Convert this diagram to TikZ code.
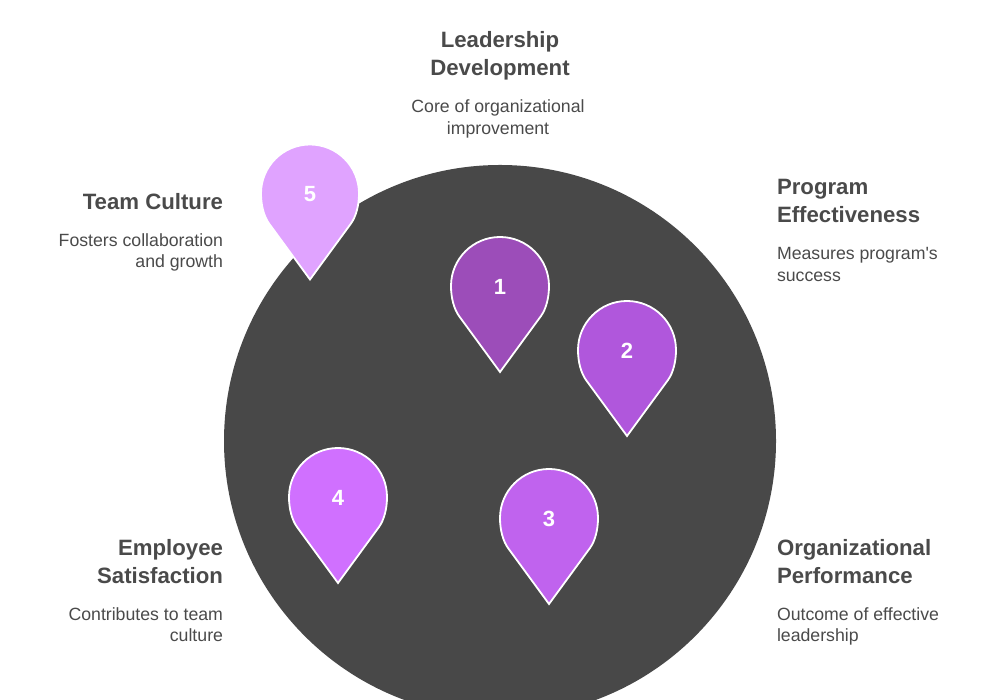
\documentclass[tikz,border=0pt]{standalone}
\usepackage{fontspec}
\setmainfont{Liberation Sans}
\newfontfamily\plainface{Liberation Sans}
\usetikzlibrary{calc}
\definecolor{disc}{HTML}{484848}
\definecolor{ink}{HTML}{4A4A4A}
\definecolor{pa}{HTML}{9C4DB9}
\definecolor{pb}{HTML}{B057DC}
\definecolor{pc}{HTML}{C063EE}
\definecolor{pd}{HTML}{D070FF}
\definecolor{pe}{HTML}{E0A3FF}
\tikzset{
  x=1pt,y=1pt,
  headline/.style={font=\fontsize{22.2}{28}\selectfont\bfseries,text=ink,inner sep=0pt,outer sep=0pt},
  blurb/.style={font=\fontsize{17.7}{21.5}\selectfont,text=ink,inner sep=0pt,outer sep=0pt},
  pinnum/.style={font=\fontsize{22}{22}\selectfont\bfseries,text=white,inner sep=0pt},
  pinbody/.style={draw=white,line width=1.8pt,line join=miter},
}
% #1 name, #2 x, #3 y of head centre (y up), #4 colour, #5 number
\newcommand{\mappin}[5]{%
  \coordinate (#1c) at (#2,#3);
  \coordinate (#1t) at (#2,#3-86);
  \path[pinbody,fill=#4] (#1t) -- ($(#1c)+(41,-30)$)
    .. controls ($(#1c)+(46,-23)$) and ($(#1c)+(49,-12)$) .. ($(#1c)+(49,0)$)
    arc[start angle=0,end angle=180,radius=49]
    .. controls ($(#1c)+(-49,-12)$) and ($(#1c)+(-46,-23)$) .. ($(#1c)+(-41,-30)$)
    -- cycle;
  \node[pinnum] (#1) at (#2,#3-0.5) {#5};
}
\begin{document}
\begin{tikzpicture}
\useasboundingbox (0,0) rectangle (1000,700);
\begin{scope}
\clip (0,0) rectangle (1000,700);
\node[circle,fill=disc,minimum size=552pt,inner sep=0pt] (disc) at (500,259) {};
\end{scope}
\mappin{pe}{310}{506.5}{pe}{5}
\mappin{pa}{500}{414}{pa}{1}
\mappin{pb}{627}{350}{pb}{2}
\mappin{pc}{549}{182}{pc}{3}
\mappin{pd}{338}{203}{pd}{4}

\node[headline,align=center,anchor=north] (t1) at (500,668.5) {Leadership\\Development};
\node[blurb,align=center,anchor=north] (d1) at (498,600) {Core of organizational\\improvement};
\node[headline,align=left,anchor=north west] (t2) at (777,520.5) {Program\\Effectiveness};
\node[blurb,align=left,anchor=north west] (d2) at (777,452.5) {Measures program{\plainface '}s\\success};
\node[headline,align=left,anchor=north west] (t3) at (777,161) {Organizational\\Performance};
\node[blurb,align=left,anchor=north west] (d3) at (777,92.5) {Outcome of effective\\leadership};
\node[headline,align=right,anchor=north east] (t4) at (223,161) {Employee\\Satisfaction};
\node[blurb,align=right,anchor=north east] (d4) at (223,92.5) {Contributes to team\\culture};
\node[headline,align=right,anchor=north east] (t5) at (223,507) {Team Culture};
\node[blurb,align=right,anchor=north east] (d5) at (223,466.5) {Fosters collaboration\\and growth};
\end{tikzpicture}
\end{document}
